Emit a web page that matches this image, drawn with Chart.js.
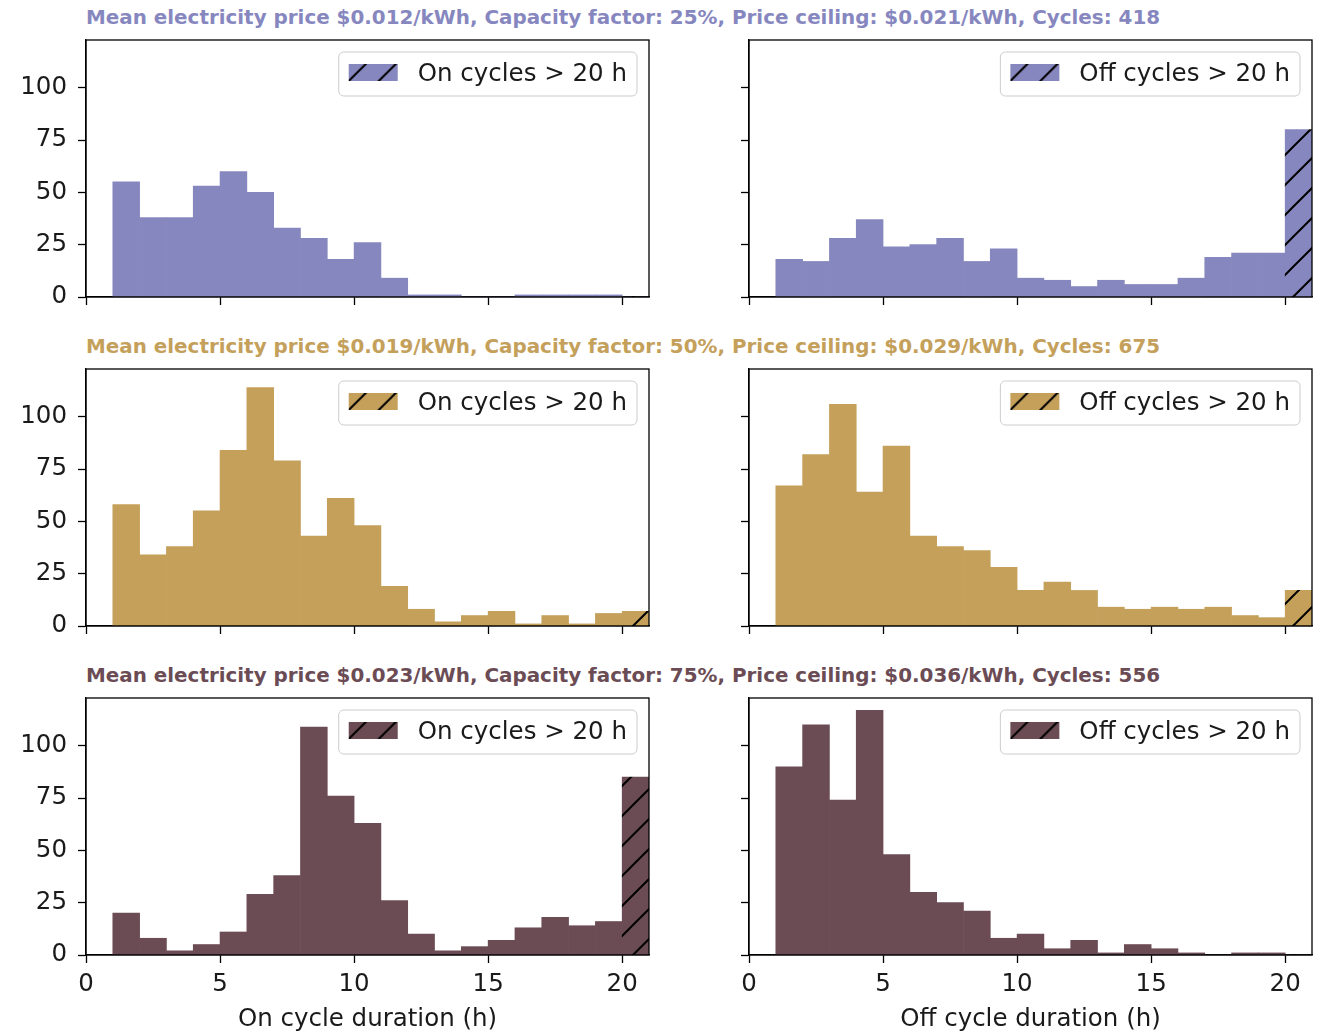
<!DOCTYPE html>
<html>
<head>
<meta charset="utf-8">
<script src="https://cdn.jsdelivr.net/npm/chart.js@4.4.1/dist/chart.umd.min.js"></script>
<style>
  body { margin: 0; background: #fff; width: 1321px; height: 1034px; position: relative; overflow: hidden; font-family: "DejaVu Sans", sans-serif; }
  .title { position: absolute; left: 86px; font-weight: bold; font-size: 19.9px; line-height: 22px; white-space: nowrap; }
  canvas { position: absolute; }
</style>
</head>
<body>
<div class="title" id="t1" style="top:7px"></div>
<div class="title" id="t2" style="top:336px"></div>
<div class="title" id="t3" style="top:665px"></div>
<canvas id="c1" width="660" height="300" style="left:0;top:30px"></canvas>
<canvas id="c2" width="661" height="300" style="left:660px;top:30px"></canvas>
<canvas id="c3" width="660" height="300" style="left:0;top:359px"></canvas>
<canvas id="c4" width="661" height="300" style="left:660px;top:359px"></canvas>
<canvas id="c5" width="660" height="346" style="left:0;top:688px"></canvas>
<canvas id="c6" width="661" height="346" style="left:660px;top:688px"></canvas>
<script>
// bin centres, 1 h wide bins from 1 to 21 h (last bin = cycles > 20 h)
const binCenters = [1.5, 2.5, 3.5, 4.5, 5.5, 6.5, 7.5, 8.5, 9.5, 10.5,
                    11.5, 12.5, 13.5, 14.5, 15.5, 16.5, 17.5, 18.5, 19.5, 20.5]
const xTicks = [0, 5, 10, 15, 20]
const yTicks = [0, 25, 50, 75, 100]

// capacity factor 25 %
const onCF25  = [55, 38, 38, 53, 60, 50, 33, 28, 18, 26, 9, 1, 1, 0, 0, 1, 1, 1, 1, 0]
const offCF25 = [18, 17, 28, 37, 24, 25, 28, 17, 23, 9, 8, 5, 8, 6, 6, 9, 19, 21, 21, 80]
// capacity factor 50 %
const onCF50  = [58, 34, 38, 55, 84, 114, 79, 43, 61, 48, 19, 8, 2, 5, 7, 1, 5, 1, 6, 7]
const offCF50 = [67, 82, 106, 64, 86, 43, 38, 36, 28, 17, 21, 17, 9, 8, 9, 8, 9, 5, 4, 17]
// capacity factor 75 %
const onCF75  = [20, 8, 2, 5, 11, 29, 38, 109, 76, 63, 26, 10, 2, 4, 7, 13, 18, 14, 16, 85]
const offCF75 = [90, 110, 74, 117, 48, 30, 25, 21, 8, 10, 3, 7, 1, 5, 3, 1, 0, 1, 1, 0]

const titles = [
  'Mean electricity price $0.012/kWh, Capacity factor: 25%, Price ceiling: $0.021/kWh, Cycles: 418',
  'Mean electricity price $0.019/kWh, Capacity factor: 50%, Price ceiling: $0.029/kWh, Cycles: 675',
  'Mean electricity price $0.023/kWh, Capacity factor: 75%, Price ceiling: $0.036/kWh, Cycles: 556'
]
const colors = ['#8787bf', '#c4a05b', '#6b4c55']

const FONT = '"DejaVu Sans"'
const FS = 24.5

function hatch(color) {
  const c = document.createElement('canvas')
  c.width = c.height = 30
  const g = c.getContext('2d')
  g.fillStyle = color
  g.fillRect(0, 0, 30, 30)
  g.strokeStyle = '#000'
  g.lineWidth = 2
  g.beginPath()
  g.moveTo(-5, 35); g.lineTo(35, -5)
  g.moveTo(-5, 5); g.lineTo(5, -5)
  g.moveTo(25, 35); g.lineTo(35, 25)
  g.stroke()
  return g.createPattern(c, 'repeat')
}

// box around the axes + matplotlib style legend in the upper right
const frameAndLegend = {
  id: 'frameAndLegend',
  afterDraw(chart) {
    const { ctx, chartArea: a } = chart
    const o = chart.options.plugins.frameAndLegend
    ctx.save()
    ctx.strokeStyle = '#000'
    ctx.lineWidth = 1.3
    ctx.strokeRect(a.left, a.top, a.right - a.left, a.bottom - a.top)

    ctx.font = FS + 'px ' + FONT
    const tw = ctx.measureText(o.text).width
    const w = 10 + 49 + 20 + tw + 10, h = 44
    const x = a.right - 12 - w, y = a.top + 12
    ctx.beginPath()
    ctx.roundRect(x, y, w, h, 5)
    ctx.fillStyle = 'rgba(255,255,255,0.8)'
    ctx.fill()
    ctx.strokeStyle = '#cccccc'
    ctx.lineWidth = 1
    ctx.stroke()
    // legend swatch: own pattern so the lines sit like matplotlib's handle
    const px = x + 10, py = y + 12
    const sw = hatch(o.color)
    sw.setTransform(new DOMMatrix().translate(px, py + 17 - 30))
    ctx.fillStyle = sw
    ctx.fillRect(px, py, 49, 17)
    ctx.fillStyle = '#1a1a1a'
    ctx.textBaseline = 'middle'
    ctx.fillText(o.text, x + 79, y + h / 2 + 1)
    ctx.restore()
  }
}

function panel(id, values, color, legendText, left, bottom, xTitle) {
  const pattern = hatch(color)
  const last = values.length - 1
  const axisFont = { family: FONT, size: FS }
  new Chart(document.getElementById(id), {
    type: 'bar',
    data: {
      datasets: [{
        data: binCenters.map((x, i) => ({ x: x, y: values[i] })),
        backgroundColor: values.map((_, i) => i === last ? pattern : color),
        borderWidth: 0,
        barPercentage: 1,
        categoryPercentage: 1
      }]
    },
    options: {
      responsive: false,
      animation: false,
      layout: { padding: { top: 10, right: left ? 11 : 9, left: 0, bottom: 0 } },
      plugins: {
        legend: { display: false },
        tooltip: { enabled: false },
        frameAndLegend: { text: legendText, color: color }
      },
      scales: {
        x: {
          type: 'linear', min: 0, max: 21, offset: false,
          afterBuildTicks: s => { s.ticks = xTicks.map(v => ({ value: v })) },
          afterFit: s => { s.height = bottom ? 79 : 33; s.paddingLeft = 0; s.paddingRight = 0 },
          grid: { offset: false, drawOnChartArea: false, drawTicks: true, tickLength: 8, tickColor: '#000', tickWidth: 1.3 },
          border: { display: true, color: '#000', width: 1.3 },
          ticks: { font: axisFont, color: '#1a1a1a', padding: 7, maxRotation: 0, autoSkip: false,
                   callback: v => bottom ? v : '' },
          title: { display: !!xTitle, text: xTitle || '', font: axisFont, color: '#1a1a1a', padding: { top: 0, bottom: 0 } }
        },
        y: {
          min: 0, max: 122.85,
          afterBuildTicks: s => { s.ticks = yTicks.map(v => ({ value: v })) },
          afterFit: s => { s.width = left ? 86 : 89; s.paddingTop = 0; s.paddingBottom = 0 },
          grid: { drawOnChartArea: false, drawTicks: true, tickLength: 8, tickColor: '#000', tickWidth: 1.3 },
          border: { display: true, color: '#000', width: 1.3 },
          ticks: { font: axisFont, color: '#1a1a1a', padding: 11, autoSkip: false,
                   callback: v => left ? v : '' }
        }
      }
    },
    plugins: [frameAndLegend]
  })
}

titles.forEach((t, i) => {
  const el = document.getElementById('t' + (i + 1))
  el.textContent = t
  el.style.color = colors[i]
})

panel('c1', onCF25,  colors[0], 'On cycles > 20 h',  true,  false)
panel('c2', offCF25, colors[0], 'Off cycles > 20 h', false, false)
panel('c3', onCF50,  colors[1], 'On cycles > 20 h',  true,  false)
panel('c4', offCF50, colors[1], 'Off cycles > 20 h', false, false)
panel('c5', onCF75,  colors[2], 'On cycles > 20 h',  true,  true, 'On cycle duration (h)')
panel('c6', offCF75, colors[2], 'Off cycles > 20 h', false, true, 'Off cycle duration (h)')
</script>
</body>
</html>
